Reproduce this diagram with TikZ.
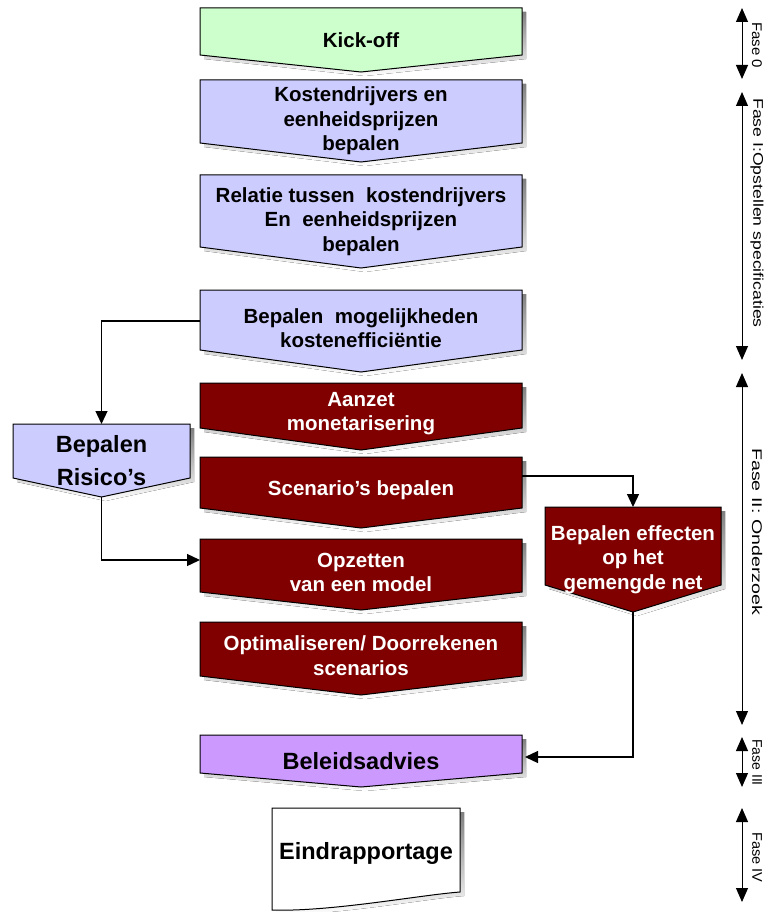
\documentclass[tikz,border=0pt]{standalone}
\usepackage{fontspec}
\setmainfont{Liberation Sans}
\usetikzlibrary{arrows.meta,calc}

\definecolor{kickgreen}{HTML}{CCFFCC}
\definecolor{lavender}{HTML}{CCCCFF}
\definecolor{darkred}{HTML}{800000}
\definecolor{lilac}{HTML}{CC99FF}
\definecolor{shade}{HTML}{8E8E8E}

\tikzset{
  steptext/.style={align=center, inner sep=0pt, outer sep=0pt,
    font=\bfseries\fontsize{20.5}{24.5}\selectfont},
  bigtext/.style={font=\bfseries\fontsize{23.5}{33}\selectfont},
  darktext/.style={text=black},
  lighttext/.style={text=white},
  flow/.style={draw=black, line width=1.3pt, -{Triangle[length=13pt,width=12pt]}},
  phase/.style={draw=black, line width=1pt,
    {Triangle[length=14pt,width=12pt]}-{Triangle[length=14pt,width=12pt]}},
  phaselabel/.style={rotate=-90, anchor=west, inner sep=0pt,
    font=\fontsize{14}{16}\selectfont},
  outline/.style={draw=black, line width=1pt},
}

% off-page step: name, left, top, right, side bottom, tip, fill, text style, text
\newcommand\offpage[9]{%
  \fill[shade] ({#2+4},{#3+4}) -- ({#4+4},{#3+4}) -- ({#4+4},{#5+4})
    -- ({(#2+#4)/2+4},{#6+4}) -- ({#2+4},{#5+4}) -- cycle;
  \draw[outline, fill=#7] (#2,#3) -- (#4,#3) -- (#4,#5)
    -- ({(#2+#4)/2},#6) -- (#2,#5) -- cycle;
  \node[steptext, #8, minimum width={#4-#2}, minimum height={#6-#3}]
    (#1) at ({(#2+#4)/2},{(#3+#6)/2}) {#9};
}

\begin{document}
\begin{tikzpicture}[x=1pt,y=-1pt]
\useasboundingbox (0,0) rectangle (768,912);

% main column
\offpage{kick}{200}{8}{522}{55}{72}{kickgreen}{darktext}{Kick-off}
\offpage{kost}{200}{80}{522}{143}{162}{lavender}{darktext}{Kostendrijvers en\\eenheidsprijzen\\bepalen}
\offpage{rel}{200}{175}{522}{247}{268}{lavender}{darktext}{Relatie tussen\ \ kostendrijvers\\En\ \ eenheidsprijzen\\bepalen}
\offpage{mog}{200}{290}{522}{350}{372}{lavender}{darktext, yshift=3pt}{Bepalen\ \ mogelijkheden\\kostenefficiëntie}
\offpage{aanz}{200}{383}{522}{428}{450}{darkred}{lighttext, yshift=3pt}{Aanzet\\monetarisering}
\offpage{scen}{200}{457}{522}{508}{528}{darkred}{lighttext, yshift=2pt}{Scenario’s bepalen}
\offpage{opz}{200}{539}{522}{592}{610}{darkred}{lighttext, yshift=2pt}{Opzetten\\van een model}
\offpage{opt}{200}{622}{522}{676}{695}{darkred}{lighttext, yshift=3pt}{Optimaliseren/ Doorrekenen\\scenarios}
\offpage{bel}{200}{735}{522}{773}{787}{lilac}{darktext, bigtext}{Beleidsadvies}

% side steps
\offpage{ris}{13}{424}{190}{478}{497}{lavender}{darktext, bigtext}{Bepalen\\Risico’s}
\offpage{eff}{545}{507}{721}{585}{612}{darkred}{lighttext}{Bepalen effecten\\op het\\gemengde net}

% final document
\fill[shade] (276,812) -- (464,812) -- (464,896)
  .. controls (424,899) and (334,916) .. (276,914) -- cycle;
\draw[outline, fill=white] (272,808) -- (460,808) -- (460,892)
  .. controls (420,895) and (330,912) .. (272,910) -- cycle;
\node[steptext, bigtext] (eind) at (366,853) {Eindrapportage};

% connectors
\draw[flow] ([yshift=7pt]mog.west) -| (ris.north);
\draw[flow] (ris.south) |- ([yshift=12.5pt]opz.west);
\draw[flow] ([yshift=14.5pt]scen.east) -| (eff.north);
\draw[flow] (eff.south) |- ([xshift=3pt,yshift=4pt]bel.east);

% phase markers
\coordinate (f0a) at (742,8);   \coordinate (f0b) at (742,79);
\coordinate (f1a) at (742,92);  \coordinate (f1b) at (742,360);
\coordinate (f2a) at (742,373); \coordinate (f2b) at (742,725);
\coordinate (f3a) at (742,737); \coordinate (f3b) at (742,787);
\coordinate (f4a) at (742,808); \coordinate (f4b) at (742,902);
\draw[phase] (f0a) -- (f0b);
\draw[phase] (f1a) -- (f1b);
\draw[phase] (f2a) -- (f2b);
\draw[phase] (f3a) -- (f3b);
\draw[phase] (f4a) -- (f4b);
\node[phaselabel, xscale=1.07] (l0) at (757,22)  {Fase 0};
\node[phaselabel, xscale=1.26] (l1) at (757,98)  {Fase I:Opstellen specificaties};
\node[phaselabel, xscale=1.40] (l2) at (757,448) {Fase II: Onderzoek};
\node[phaselabel] (l3) at (757,739) {Fase III};
\node[phaselabel, xscale=1.04] (l4) at (757,832) {Fase IV};
\end{tikzpicture}
\end{document}
